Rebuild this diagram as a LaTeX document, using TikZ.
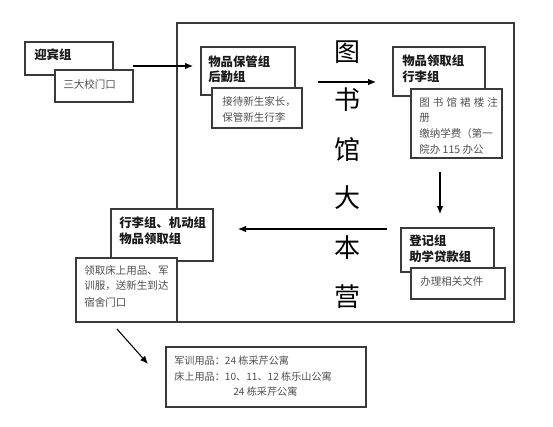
\documentclass[tikz,border=0pt]{standalone}
\usepackage{fontspec}
\setmainfont{Noto Sans CJK SC}
\usetikzlibrary{arrows.meta,fit}
\definecolor{frame}{HTML}{3A3A3A}
\definecolor{subtxt}{HTML}{505050}
\begin{document}
\begin{tikzpicture}[x=0.75pt,y=-0.75pt,
  box/.style={draw=frame, line width=0.8pt, fill=white, inner sep=0pt},
  outer/.style={draw=frame, line width=0.8pt, inner sep=0pt},
  ttl/.style={anchor=west, inner sep=0pt, font=\fontsize{9.3pt}{11pt}\selectfont\bfseries, text=black!90},
  sub/.style={anchor=west, inner sep=0pt, font=\fontsize{7.9pt}{10pt}\selectfont, text=subtxt},
  note/.style={anchor=west, inner sep=0pt, font=\fontsize{7.6pt}{10pt}\selectfont, text=subtxt},
  arr/.style={draw=black, line width=0.8pt, -{Latex[length=6pt,width=5pt]}},
  big/.style={inner sep=0pt, font=\fontsize{19.5pt}{20pt}\selectfont, text=black}]
\useasboundingbox (0,0) rectangle (553,426);
% big frame
\node[outer, fit={(177,23) (514,322)}] (hq) {};
% greeting group
\node[box, fit={(25,42) (113,75)}] (yb) {};
\node[ttl] (ybt) at (34,55) {迎宾组};
\node[box, fit={(55,70) (133,102)}] (ybs) {};
\node[sub] (ybst) at (63,84) {三大校门口};
% storage group
\node[box, fit={(201,47) (295,95)}] (bg) {};
\node[ttl] (bgt1) at (208,62) {物品保管组};
\node[ttl] (bgt2) at (208,77) {后勤组};
\node[box, fit={(212,88) (302,128)}] (bgs) {};
\node[sub] (bgs1) at (222,102) {接待新生家长，};
\node[sub] (bgs2) at (222,117) {保管新生行李};
% receive group
\node[box, fit={(393,47) (485,96)}] (lq) {};
\node[ttl] (lqt1) at (402,61) {物品领取组};
\node[ttl] (lqt2) at (402,77) {行李组};
\node[box, fit={(411,89) (502,158)}] (lqs) {};
\node[sub] (lqs1) at (419,102) {\hbox to 59pt{图\hfil 书\hfil 馆\hfil 裙\hfil 楼\hfil 注}};
\node[sub] (lqs2) at (419,118) {册};
\node[sub] (lqs3) at (419,133) {缴纳学费（第一};
\node[sub] (lqs4) at (419,149) {院办 115 办公};
% register group
\node[box, fit={(401,228) (494,272)}] (dj) {};
\node[ttl] (djt1) at (409,241) {登记组};
\node[ttl] (djt2) at (409,257) {助学贷款组};
\node[box, fit={(411,268) (505,299)}] (djs) {};
\node[sub] (djs1) at (420,281) {办理相关文件};
% luggage group
\node[box, fit={(111,209) (213,261)}] (xl) {};
\node[ttl] (xlt1) at (119,223) {行李组、机动组};
\node[ttl] (xlt2) at (119,239) {物品领取组};
\node[box, fit={(76,258) (177,322)}] (xls) {};
\node[sub] (xls1) at (84,270) {领取床上用品、军};
\node[sub] (xls2) at (84,286) {训服，送新生到达};
\node[sub] (xls3) at (84,302) {宿舍门口};
% bottom note
\node[box, fit={(166,347) (366,407)}] (nt) {};
\node[note] (nt1) at (174,361) {军训用品：24 栋采芹公寓};
\node[note] (nt2) at (174,377) {床上用品：10、11、12 栋乐山公寓};
\node[note] (nt3) at (233,392) {24 栋采芹公寓};
% big title
\node[big] (c1) at (347,52) {图};
\node[big] (c2) at (347,100) {书};
\node[big] (c3) at (347,150) {馆};
\node[big] (c4) at (347,198) {大};
\node[big] (c5) at (347,248) {本};
\node[big] (c6) at (347,297) {营};
% arrows
\coordinate (a1s) at (133,66);
\coordinate (a1e) at (193,66);
\coordinate (a2s) at (318,82);
\coordinate (a2e) at (376,82);
\coordinate (a3s) at (440,172);
\coordinate (a3e) at (440,214);
\coordinate (a4s) at (387,229);
\coordinate (a4e) at (238,229);
\coordinate (a5s) at (117,329);
\coordinate (a5e) at (148,364);
\draw[arr] (a1s) -- (a1e);
\draw[arr] (a2s) -- (a2e);
\draw[arr] (a3s) -- (a3e);
\draw[arr] (a4s) -- (a4e);
\draw[arr] (a5s) -- (a5e);
\end{tikzpicture}
\end{document}
